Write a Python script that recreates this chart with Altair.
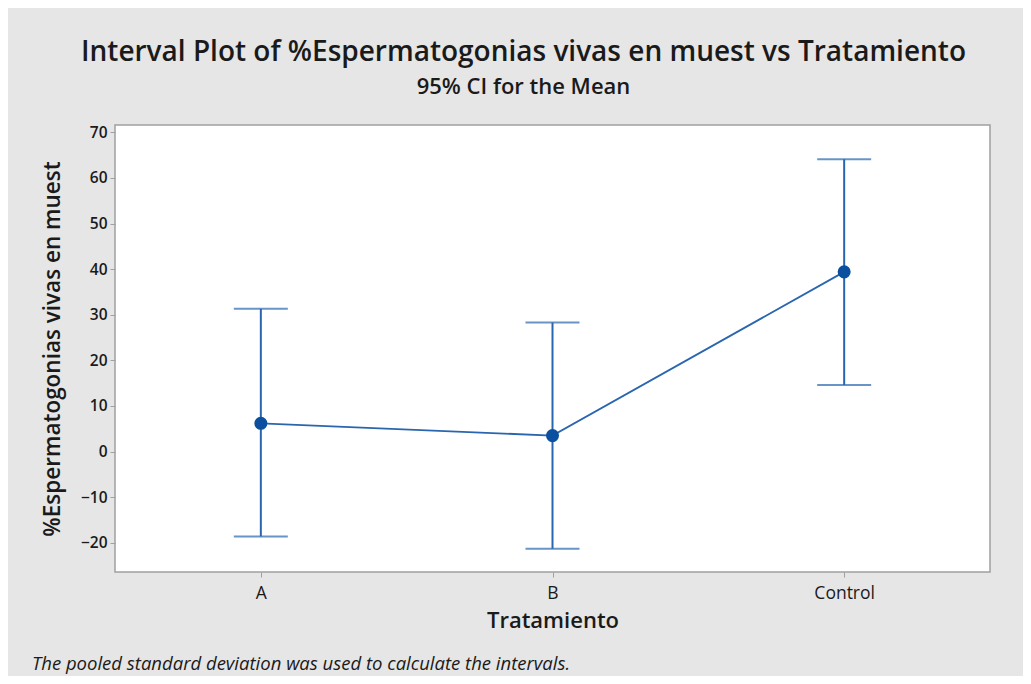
import altair as alt
import pandas as pd

treatments = ["A", "B", "Control"]
means = [6.2, 3.5, 39.4]
lowers = [-18.6, -21.3, 14.6]
uppers = [31.3, 28.3, 64.1]
y_ticks = [-20, -10, 0, 10, 20, 30, 40, 50, 60, 70]

df = pd.DataFrame({"Tratamiento": treatments, "mean": means, "lo": lowers, "hi": uppers})

FONT = "Open Sans"
LINE = "#2a66b0"
DOT = "#0b4f9f"

x_enc = alt.X("Tratamiento:N", sort=treatments,
              scale=alt.Scale(type="point", padding=0.5),
              axis=alt.Axis(title="Tratamiento", labelAngle=0, labelFontSize=17.5,
                            labelFont=FONT, labelColor="#1a1a1a", labelPadding=7,
                            titleFont=FONT, titleFontSize=22, titleFontWeight=600,
                            titleColor="#1a1a1a", titlePadding=9,
                            domain=False, tickColor="#a0a0a0", tickSize=5))
y_scale = alt.Scale(domain=[-26.4, 71.6], nice=False, zero=False)
y_axis = alt.Axis(title="%Espermatogonias vivas en muest", values=y_ticks, grid=False,
                  labelFontSize=15.5, labelFont=FONT, labelColor="#1a1a1a", labelFontWeight=600,
                  titleFont=FONT, titleFontSize=22.5, titleFontWeight=600, titleColor="#1a1a1a",
                  titlePadding=16, domain=False, tickColor="#a0a0a0", tickSize=5, labelPadding=3)

base = alt.Chart(df)

rules = base.mark_rule(color=LINE, strokeWidth=2).encode(
    x=x_enc, y=alt.Y("lo:Q", scale=y_scale, axis=y_axis), y2="hi:Q")
cap_lo = base.mark_tick(color=LINE, thickness=2, size=54).encode(x=x_enc, y=alt.Y("lo:Q", scale=y_scale))
cap_hi = base.mark_tick(color=LINE, thickness=2, size=54).encode(x=x_enc, y=alt.Y("hi:Q", scale=y_scale))
line = base.mark_line(color=LINE, strokeWidth=1.8).encode(x=x_enc, y=alt.Y("mean:Q", scale=y_scale))
pts = base.mark_point(filled=True, color=DOT, size=170, opacity=1).encode(
    x=x_enc, y=alt.Y("mean:Q", scale=y_scale))

note = alt.Chart(pd.DataFrame({"t": ["The pooled standard deviation was used to calculate the intervals."]})).mark_text(
    align="left", baseline="alphabetic", font=FONT, fontSize=18.5, fontStyle="italic", color="#1a1a1a"
).encode(x=alt.value(-83), y=alt.value(545), text="t:N")

chart = alt.layer(rules, cap_lo, cap_hi, line, pts, note).properties(
    width=875, height=447,
    title=alt.TitleParams(
        text="Interval Plot of %Espermatogonias vivas en muest vs Tratamiento",
        subtitle="95% CI for the Mean",
        font=FONT, fontSize=28, fontWeight=600, color="#1a1a1a",
        subtitleFont=FONT, subtitleFontSize=22, subtitleFontWeight=600, subtitleColor="#1a1a1a",
        subtitlePadding=10, anchor="middle", dx=-29, offset=27),
    padding={"left": 107, "top": 117, "right": 33, "bottom": 104},
    autosize=alt.AutoSizeParams(type="none"),
    background="#e6e6e6",
).configure_view(stroke="#a0a0a0", strokeWidth=1.5, fill="white")

chart.save("out.html", embed_options={"renderer": "svg", "actions": False})
